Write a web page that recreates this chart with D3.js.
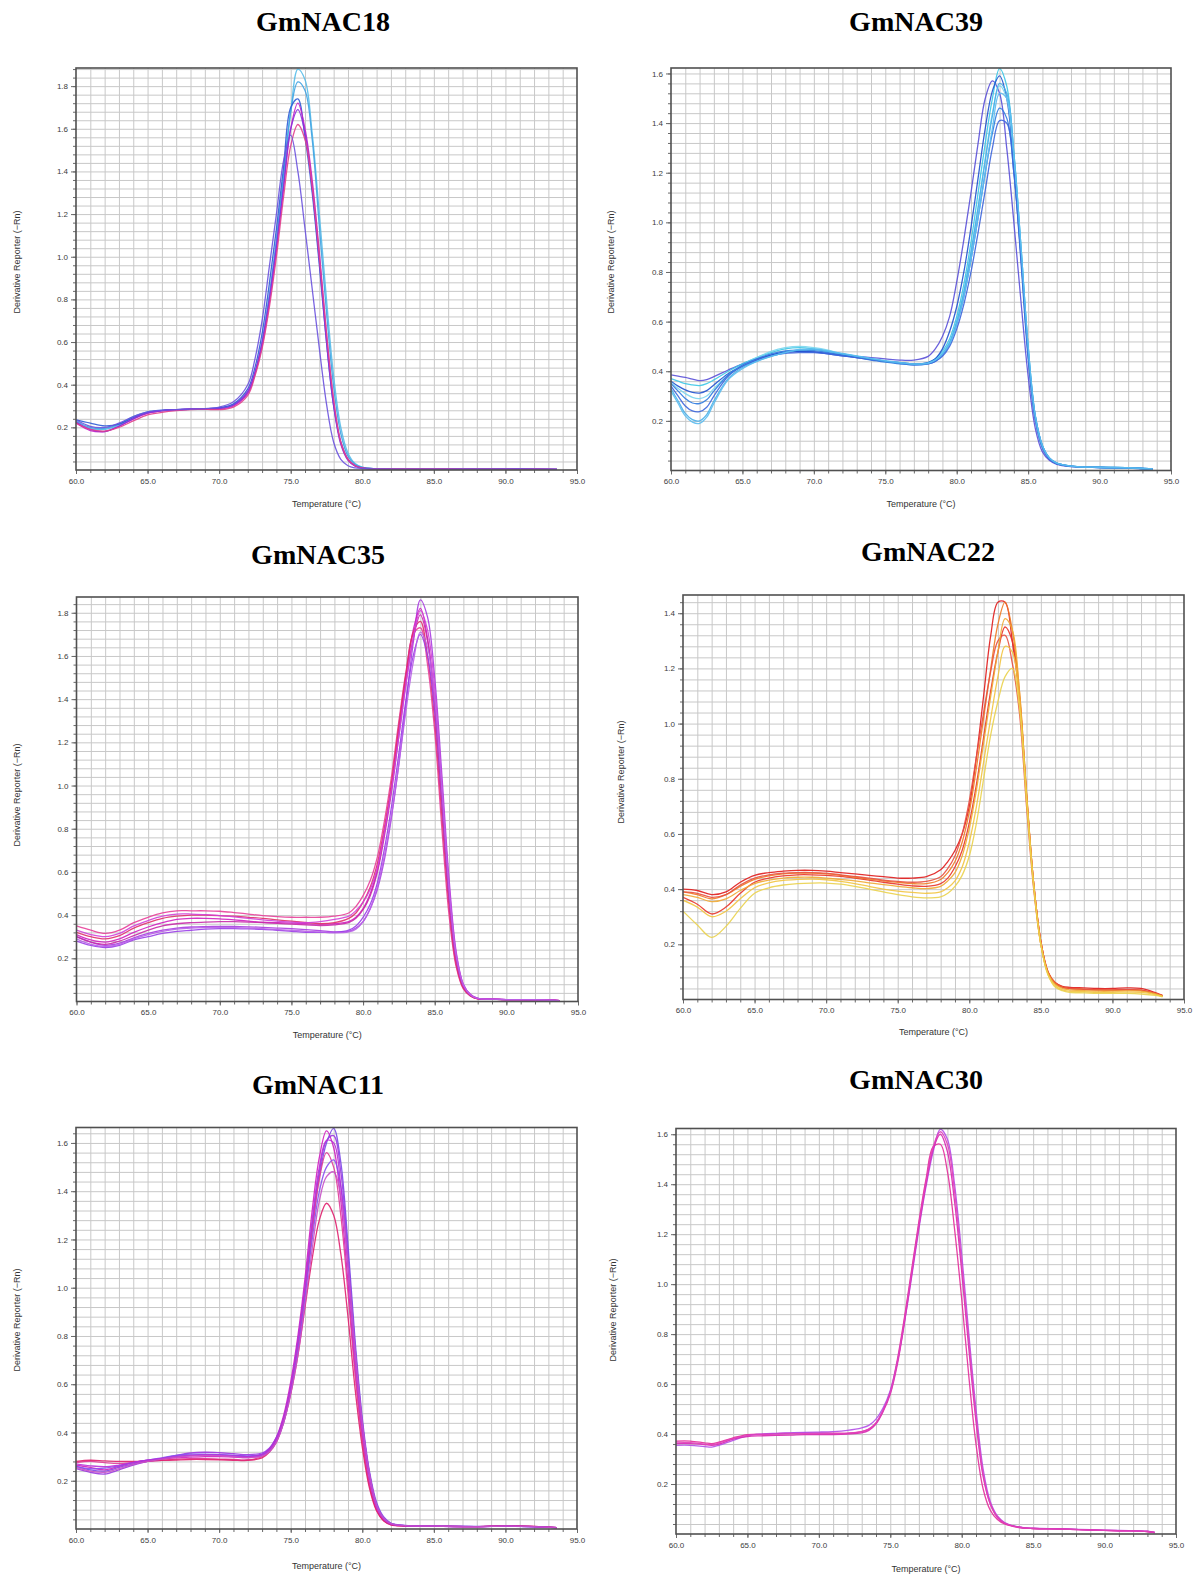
<!DOCTYPE html>
<html>
<head>
<meta charset="utf-8">
<script src="https://cdnjs.cloudflare.com/ajax/libs/d3/7.8.5/d3.min.js"></script>
<style>
body { margin: 0; background: #fff; }
.tick text { font-family: "Liberation Sans", Arial, sans-serif; font-size: 8px; fill: #3c3c3c; }
.axis .domain { stroke: none; }
.axis line { stroke: #6a6a6a; }
.axis-title { font-family: "Liberation Sans", Arial, sans-serif; font-size: 9px; fill: #333; }
.panel-title { font-family: "Liberation Serif", "Times New Roman", serif; font-weight: bold; font-size: 28px; fill: #000; }
.grid line { stroke: #c8c8c8; stroke-width: 1; }
.grid .domain { display: none; }
</style>
</head>
<body>
<div id="picture"></div>
<script>
// GmNAC18
var T18 = [60, 61, 62, 63, 64, 65, 66, 67, 68, 69, 70, 71, 72, 72.5, 73, 73.5, 74, 74.5, 75, 75.5, 76, 76.5, 77, 77.5, 78, 78.5, 79, 79.5, 80, 81, 83, 85, 87, 89, 91, 93.6];
var NAC18 = [
    [.225, .195, .19, .21, .245, .268, .278, .282, .285, .286, .29, .305, .365, .45, .59, .8, 1.06, 1.36, 1.68, 1.88, 1.83, 1.58, 1.2, .8, .44, .2, .08, .03, .013, .006, .004, .004, .005, .005, .005, .003],
    [.23, .2, .195, .215, .25, .272, .28, .283, .285, .287, .29, .305, .36, .45, .6, .82, 1.08, 1.38, 1.68, 1.82, 1.78, 1.55, 1.14, .74, .39, .17, .065, .026, .012, .006, .004, .004, .005, .005, .005, .003],
    [.235, .22, .207, .215, .245, .27, .28, .283, .285, .287, .292, .31, .38, .48, .64, .87, 1.13, 1.42, 1.7, 1.74, 1.56, 1.3, .96, .6, .3, .13, .05, .02, .01, .006, .004, .004, .005, .005, .005, .003],
    [.22, .185, .18, .205, .24, .265, .277, .282, .285, .285, .285, .3, .36, .45, .58, .78, 1.03, 1.32, 1.6, 1.72, 1.6, 1.36, 1.02, .64, .32, .13, .05, .02, .009, .005, .004, .004, .006, .006, .004, .003],
    [.225, .19, .18, .205, .24, .268, .278, .283, .285, .286, .288, .305, .37, .46, .6, .8, 1.05, 1.33, 1.6, 1.69, 1.58, 1.32, .98, .6, .3, .12, .045, .018, .009, .005, .004, .004, .005, .005, .004, .003],
    [.22, .19, .182, .2, .23, .258, .27, .278, .283, .285, .283, .295, .35, .44, .57, .76, 1.0, 1.28, 1.52, 1.62, 1.55, 1.33, 1.0, .64, .33, .13, .05, .02, .01, .006, .005, .005, .006, .006, .004, .003],
    [.235, .205, .2, .22, .25, .272, .28, .283, .285, .288, .295, .32, .4, .52, .7, .95, 1.2, 1.45, 1.57, 1.4, 1.13, .85, .57, .31, .13, .05, .02, .01, .007, .005, .004, .004, .005, .005, .005, .003]
];
var COL18 = ["#58bde9", "#3fa2e2", "#2f5cd6", "#c81fc8", "#8a2fdc", "#e2408c", "#6a52de"];

// GmNAC39
var T39 = [60, 60.5, 61, 61.5, 62, 62.5, 63, 64, 65, 66, 67, 68, 69, 70, 71, 72, 73, 74, 75, 76, 77, 78, 78.5, 79, 79.5, 80, 80.5, 81, 81.5, 82, 82.5, 83, 83.5, 84, 84.5, 85, 85.5, 86, 86.5, 87, 88, 90, 92, 93.7];
var NAC39 = [
    [.385, .38, .375, .368, .362, .366, .378, .405, .43, .45, .465, .475, .48, .478, .472, .466, .46, .455, .45, .445, .445, .46, .49, .54, .62, .76, .93, 1.12, 1.32, 1.5, 1.57, 1.52, 1.3, 1.0, .68, .38, .17, .075, .04, .025, .016, .012, .01, .005],
    [.37, .36, .35, .345, .342, .35, .365, .4, .43, .455, .475, .49, .495, .49, .48, .47, .46, .45, .44, .435, .43, .435, .45, .48, .53, .62, .75, .92, 1.12, 1.32, 1.5, 1.62, 1.55, 1.28, .9, .5, .22, .1, .05, .03, .018, .013, .011, .005],
    [.36, .34, .325, .315, .312, .322, .345, .39, .42, .445, .465, .478, .48, .478, .47, .462, .455, .448, .44, .435, .43, .435, .45, .49, .56, .66, .8, .98, 1.18, 1.38, 1.53, 1.59, 1.5, 1.22, .84, .45, .2, .09, .045, .028, .017, .012, .011, .005],
    [.355, .33, .31, .295, .29, .3, .33, .385, .425, .455, .48, .495, .5, .495, .485, .47, .46, .45, .44, .432, .428, .432, .445, .475, .52, .6, .72, .88, 1.06, 1.26, 1.44, 1.55, 1.5, 1.25, .88, .48, .21, .095, .048, .029, .017, .012, .011, .005],
    [.35, .32, .29, .272, .27, .285, .32, .385, .425, .45, .47, .482, .485, .483, .475, .465, .455, .445, .437, .43, .425, .43, .44, .465, .51, .59, .7, .85, 1.02, 1.2, 1.36, 1.46, 1.42, 1.2, .86, .47, .21, .095, .047, .028, .017, .012, .01, .005],
    [.34, .3, .26, .24, .237, .255, .3, .38, .42, .445, .462, .472, .475, .475, .47, .462, .455, .447, .44, .433, .427, .43, .44, .46, .5, .57, .67, .8, .96, 1.13, 1.3, 1.41, 1.4, 1.2, .87, .48, .22, .1, .05, .03, .018, .013, .011, .006],
    [.33, .28, .23, .205, .2, .225, .28, .37, .415, .44, .46, .475, .485, .487, .48, .47, .46, .45, .44, .433, .428, .432, .445, .47, .515, .6, .72, .88, 1.06, 1.25, 1.43, 1.56, 1.52, 1.28, .9, .5, .22, .1, .05, .03, .018, .013, .011, .006],
    [.32, .27, .22, .195, .19, .215, .27, .365, .41, .44, .46, .475, .488, .49, .482, .472, .462, .452, .443, .436, .43, .433, .445, .47, .51, .59, .7, .85, 1.02, 1.2, 1.38, 1.52, 1.5, 1.27, .9, .5, .22, .1, .05, .03, .018, .013, .011, .006]
];
var COL39 = ["#5a50d8", "#3cc6e6", "#1f52cf", "#7ad6ee", "#2c7ae0", "#3d66dc", "#48aee8", "#5bbcf0"];

// GmNAC35
var T35 = [60, 61, 62, 63, 64, 65, 66, 67, 68, 69, 70, 71, 72, 73, 74, 75, 76, 77, 78, 79, 79.5, 80, 80.5, 81, 81.5, 82, 82.5, 83, 83.5, 84, 84.5, 85, 85.5, 86, 86.5, 87, 87.5, 88, 89, 90, 92, 93.7];
var NAC35 = [
    [.35, .33, .315, .33, .365, .39, .41, .42, .42, .42, .418, .412, .405, .398, .393, .39, .39, .39, .395, .41, .44, .49, .56, .67, .84, 1.05, 1.3, 1.53, 1.7, 1.73, 1.56, 1.25, .8, .4, .16, .058, .024, .012, .01, .009, .008, .004],
    [.3, .275, .26, .27, .295, .315, .33, .34, .345, .347, .348, .348, .346, .343, .34, .337, .333, .328, .322, .325, .34, .37, .43, .52, .66, .86, 1.1, 1.38, 1.66, 1.86, 1.78, 1.5, 1.05, .57, .23, .08, .032, .014, .011, .009, .008, .004],
    [.31, .285, .275, .29, .32, .345, .365, .38, .385, .385, .383, .378, .372, .367, .365, .363, .36, .358, .36, .37, .39, .43, .5, .61, .79, 1.0, 1.26, 1.51, 1.72, 1.82, 1.68, 1.38, .93, .48, .19, .068, .028, .013, .011, .009, .008, .004],
    [.32, .3, .29, .305, .34, .365, .385, .395, .4, .4, .398, .395, .39, .385, .378, .372, .366, .36, .365, .385, .41, .46, .53, .64, .81, 1.02, 1.28, 1.52, 1.71, 1.76, 1.6, 1.3, .86, .44, .17, .062, .026, .012, .01, .009, .008, .004],
    [.28, .26, .25, .26, .285, .3, .315, .325, .33, .335, .337, .337, .336, .334, .33, .325, .32, .32, .32, .33, .35, .39, .45, .55, .71, .91, 1.15, 1.4, 1.6, 1.7, 1.6, 1.34, .92, .49, .2, .072, .03, .014, .011, .009, .008, .004],
    [.3, .275, .265, .28, .305, .33, .35, .36, .365, .368, .37, .37, .368, .365, .362, .358, .355, .352, .355, .365, .385, .425, .49, .6, .77, .98, 1.23, 1.48, 1.68, 1.79, 1.67, 1.38, .93, .48, .19, .068, .028, .013, .011, .009, .008, .004],
    [.33, .31, .3, .315, .35, .375, .395, .405, .405, .402, .398, .392, .385, .378, .372, .368, .365, .37, .38, .395, .42, .46, .52, .62, .79, .99, 1.23, 1.47, 1.68, 1.81, 1.72, 1.45, 1.0, .54, .22, .078, .032, .014, .011, .009, .008, .004],
    [.29, .265, .255, .265, .29, .31, .325, .335, .34, .342, .343, .342, .34, .337, .333, .33, .325, .322, .318, .322, .335, .37, .43, .53, .68, .87, 1.1, 1.35, 1.57, 1.71, 1.64, 1.4, .98, .52, .21, .075, .03, .014, .011, .009, .008, .004]
];
var COL35 = ["#e8409a", "#a83ee0", "#d020c0", "#e0306a", "#9a3ee8", "#c82aa8", "#d040d8", "#b860e8"];

// GmNAC22
var T22 = [60, 61, 62, 63, 64, 65, 66, 67, 68, 69, 70, 71, 72, 73, 74, 75, 76, 77, 78, 78.5, 79, 79.5, 80, 80.5, 81, 81.5, 82, 82.5, 83, 83.5, 84, 84.5, 85, 85.5, 86, 86.5, 87, 88, 89, 90, 91, 92, 93, 93.5];
var NAC22 = [
    [.4, .395, .38, .39, .425, .45, .46, .465, .468, .468, .465, .46, .455, .45, .445, .44, .44, .445, .47, .5, .54, .6, .7, .88, 1.1, 1.32, 1.44, 1.44, 1.3, 1.1, .74, .42, .21, .1, .062, .048, .044, .042, .04, .04, .042, .04, .025, .015],
    [.37, .345, .31, .335, .385, .425, .44, .448, .452, .452, .45, .446, .44, .433, .425, .418, .412, .41, .42, .44, .48, .54, .64, .78, .95, 1.12, 1.26, 1.35, 1.3, 1.1, .74, .42, .21, .1, .06, .046, .04, .037, .035, .034, .036, .034, .022, .013],
    [.39, .38, .365, .38, .41, .435, .448, .455, .458, .458, .455, .45, .443, .436, .43, .425, .42, .42, .435, .46, .5, .57, .68, .84, 1.02, 1.2, 1.36, 1.44, 1.34, 1.12, .75, .42, .21, .1, .06, .045, .04, .037, .035, .034, .035, .033, .022, .013],
    [.39, .385, .37, .38, .415, .44, .452, .458, .46, .46, .458, .452, .446, .44, .433, .428, .425, .428, .445, .475, .52, .6, .72, .88, 1.04, 1.19, 1.3, 1.32, 1.22, 1.04, .7, .4, .2, .095, .058, .044, .04, .037, .035, .035, .036, .034, .022, .013],
    [.38, .37, .355, .365, .395, .42, .433, .44, .443, .443, .44, .435, .43, .423, .416, .41, .405, .402, .41, .43, .46, .52, .62, .76, .93, 1.1, 1.26, 1.38, 1.34, 1.12, .75, .42, .2, .095, .055, .04, .035, .032, .03, .03, .031, .03, .02, .012],
    [.36, .335, .3, .32, .365, .405, .423, .432, .435, .436, .434, .428, .42, .41, .4, .393, .388, .385, .39, .405, .43, .48, .57, .7, .86, 1.02, 1.17, 1.28, 1.26, 1.08, .73, .41, .2, .09, .05, .035, .03, .028, .026, .026, .027, .026, .018, .011],
    [.32, .27, .225, .265, .33, .385, .405, .415, .42, .422, .422, .418, .41, .4, .39, .38, .372, .368, .372, .385, .41, .45, .52, .64, .8, .96, 1.08, 1.17, 1.2, 1.06, .72, .41, .2, .09, .045, .032, .026, .024, .022, .022, .022, .02, .015, .01]
];
var COL22 = ["#e01c1c", "#e8342a", "#f07a22", "#e85040", "#f0a832", "#f2c440", "#ead24c"];

// GmNAC11
var T11 = [60, 61, 62, 63, 64, 65, 66, 67, 68, 69, 70, 71, 72, 73, 73.5, 74, 74.5, 75, 75.5, 76, 76.5, 77, 77.5, 78, 78.5, 79, 79.5, 80, 80.5, 81, 81.5, 82, 83, 85, 88, 90, 92, 93.6];
var NAC11 = [
    [.26, .245, .24, .255, .27, .28, .29, .3, .305, .308, .308, .305, .302, .31, .33, .37, .45, .58, .76, .98, 1.24, 1.46, 1.6, 1.66, 1.52, 1.18, .78, .46, .24, .11, .05, .025, .015, .013, .011, .011, .009, .006],
    [.265, .255, .245, .26, .275, .285, .29, .295, .298, .3, .3, .298, .296, .305, .33, .38, .47, .61, .8, 1.04, 1.32, 1.54, 1.65, 1.58, 1.36, 1.02, .66, .38, .19, .08, .035, .018, .012, .011, .01, .013, .01, .006],
    [.25, .235, .228, .245, .265, .28, .292, .305, .315, .318, .316, .312, .308, .315, .335, .38, .46, .59, .78, 1.0, 1.26, 1.48, 1.61, 1.63, 1.48, 1.14, .75, .44, .23, .1, .045, .022, .014, .012, .01, .012, .01, .006],
    [.275, .28, .275, .272, .275, .28, .285, .29, .292, .292, .29, .288, .287, .3, .325, .37, .45, .58, .76, .98, 1.23, 1.45, 1.56, 1.5, 1.3, .98, .64, .37, .18, .08, .035, .018, .012, .011, .01, .014, .011, .006],
    [.28, .285, .282, .28, .28, .282, .284, .286, .288, .288, .287, .285, .284, .295, .318, .36, .44, .56, .72, .92, 1.12, 1.28, 1.35, 1.3, 1.14, .88, .58, .34, .17, .075, .033, .017, .012, .011, .01, .014, .011, .006],
    [.26, .25, .252, .262, .275, .285, .295, .305, .31, .31, .308, .305, .302, .306, .322, .365, .44, .57, .74, .96, 1.2, 1.4, 1.5, 1.53, 1.42, 1.12, .75, .44, .23, .1, .045, .022, .014, .012, .01, .012, .01, .006],
    [.27, .262, .258, .265, .276, .285, .293, .3, .305, .307, .306, .303, .3, .308, .328, .372, .455, .59, .78, 1.01, 1.28, 1.5, 1.61, 1.6, 1.42, 1.08, .7, .41, .21, .09, .04, .02, .013, .012, .01, .012, .01, .006],
    [.255, .24, .235, .25, .268, .28, .29, .298, .303, .305, .304, .3, .296, .302, .32, .36, .44, .56, .72, .93, 1.16, 1.36, 1.46, 1.48, 1.38, 1.1, .74, .44, .23, .1, .045, .022, .014, .012, .01, .012, .01, .006]
];
var COL11 = ["#7a4ae8", "#d21fc0", "#9a3ae0", "#e03c98", "#e0206e", "#8850f0", "#b830d8", "#c850c8"];

// GmNAC30
var T30 = [60, 61, 62, 62.5, 63, 64, 65, 66, 67, 68, 69, 70, 71, 72, 73, 73.5, 74, 74.5, 75, 75.5, 76, 76.5, 77, 77.5, 78, 78.5, 79, 79.5, 80, 80.5, 81, 81.5, 82, 82.5, 83, 84, 85, 87, 89, 91, 93, 93.5];
var NAC30 = [
    [.372, .372, .365, .362, .368, .385, .398, .4, .402, .404, .405, .405, .404, .403, .41, .42, .445, .495, .57, .7, .87, 1.06, 1.25, 1.42, 1.55, 1.56, 1.45, 1.22, .94, .63, .36, .18, .095, .058, .04, .026, .022, .02, .016, .013, .01, .006],
    [.355, .355, .35, .348, .355, .375, .393, .4, .403, .405, .407, .408, .41, .415, .425, .435, .46, .505, .575, .69, .85, 1.03, 1.22, 1.39, 1.53, 1.62, 1.58, 1.4, 1.12, .8, .5, .26, .13, .072, .046, .028, .023, .021, .017, .014, .011, .006],
    [.362, .362, .358, .355, .36, .38, .39, .393, .395, .396, .398, .398, .398, .4, .405, .415, .44, .49, .56, .68, .85, 1.04, 1.23, 1.4, 1.54, 1.6, 1.53, 1.33, 1.05, .74, .45, .23, .12, .066, .043, .027, .022, .02, .016, .013, .01, .006],
    [.368, .366, .36, .358, .364, .383, .395, .398, .4, .401, .402, .402, .402, .404, .41, .42, .445, .495, .565, .69, .86, 1.05, 1.24, 1.41, 1.55, 1.61, 1.56, 1.37, 1.08, .77, .47, .24, .12, .068, .044, .027, .022, .02, .016, .013, .01, .006]
];
var COL30 = ["#e32c9a", "#b24ee8", "#d727b0", "#e040b8"];

var X_MAJOR = [60, 65, 70, 75, 80, 85, 90, 95];

// page layout: plot box [left, top, right, bottom], label anchors
var panels = [
    { title: "GmNAC18", temps: T18, curves: NAC18, colors: COL18, yMax: 1.885, box: [76, 68, 577, 470], tx: 323, ty: 31, lx: 17, ly: 262, xy: 507 },
    { title: "GmNAC39", temps: T39, curves: NAC39, colors: COL39, yMax: 1.622, box: [671, 68, 1171, 470.5], tx: 916, ty: 31, lx: 611, ly: 262, xy: 507 },
    { title: "GmNAC35", temps: T35, curves: NAC35, colors: COL35, yMax: 1.873, box: [76.5, 597, 578, 1001.5], tx: 318, ty: 564, lx: 17, ly: 795, xy: 1038 },
    { title: "GmNAC22", temps: T22, curves: NAC22, colors: COL22, yMax: 1.466, box: [683, 595, 1184, 999.5], tx: 928, ty: 561, lx: 621, ly: 772, xy: 1035 },
    { title: "GmNAC11", temps: T11, curves: NAC11, colors: COL11, yMax: 1.664, box: [76, 1127.5, 577, 1529], tx: 318, ty: 1094, lx: 17, ly: 1320, xy: 1569 },
    { title: "GmNAC30", temps: T30, curves: NAC30, colors: COL30, yMax: 1.623, box: [676, 1128.5, 1176, 1534], tx: 916, ty: 1089, lx: 613, ly: 1310, xy: 1572 }
];

var svg = d3.select("#picture")
    .append("svg")
    .attr("width", 1202)
    .attr("height", 1578);

panels.forEach(function (p, i) {
    var b = p.box;
    var x = d3.scaleLinear().domain([60, 95]).range([b[0], b[2]]);
    var y = d3.scaleLinear().domain([0, p.yMax]).range([b[3], b[1]]);
    var w = b[2] - b[0], h = b[3] - b[1];
    var g = svg.append("g");

    var minorY = d3.range(1, Math.floor(p.yMax / 0.04 + 1e-6) + 1).map(function (k) { return k * 0.04; });
    var majorY = d3.range(1, Math.floor(p.yMax / 0.2 + 1e-6) + 1).map(function (k) { return k * 0.2; });
    var minorX = d3.range(61, 95);

    g.append("clipPath").attr("id", "clip" + i)
        .append("rect").attr("x", b[0]).attr("y", b[1]).attr("width", w).attr("height", h);

    // grid
    g.append("g").attr("class", "grid")
        .attr("transform", "translate(0," + b[3] + ")")
        .call(d3.axisBottom(x).tickValues(minorX).tickSize(-h).tickFormat(""));
    g.append("g").attr("class", "grid")
        .attr("transform", "translate(" + b[0] + ",0)")
        .call(d3.axisLeft(y).tickValues(minorY).tickSize(-w).tickFormat(""));

    // axes
    g.append("g").attr("class", "axis")
        .attr("transform", "translate(" + b[0] + ",0)")
        .call(d3.axisLeft(y).tickValues(minorY).tickSize(3).tickFormat(""));
    g.append("g").attr("class", "axis")
        .attr("transform", "translate(" + b[0] + ",0)")
        .call(d3.axisLeft(y).tickValues(majorY).tickSize(5).tickPadding(3).tickFormat(d3.format(".1f")));
    g.append("g").attr("class", "axis")
        .attr("transform", "translate(0," + b[3] + ")")
        .call(d3.axisBottom(x).tickValues(d3.range(60, 96)).tickSize(3).tickFormat(""));
    g.append("g").attr("class", "axis")
        .attr("transform", "translate(0," + b[3] + ")")
        .call(d3.axisBottom(x).tickValues(X_MAJOR).tickSize(4).tickPadding(4).tickFormat(d3.format(".1f")));

    // melt curves
    var line = d3.line()
        .curve(d3.curveCatmullRom.alpha(0.5))
        .x(function (d) { return x(d[0]); })
        .y(function (d) { return y(d[1]); });

    g.append("g").attr("clip-path", "url(#clip" + i + ")")
        .selectAll("path")
        .data(p.curves)
        .enter()
        .append("path")
        .attr("d", function (c) { return line(d3.zip(p.temps, c)); })
        .attr("fill", "none")
        .attr("stroke", function (c, j) { return p.colors[j]; })
        .attr("stroke-width", 1.3)
        .attr("stroke-opacity", 0.9);

    g.append("rect")
        .attr("x", b[0]).attr("y", b[1]).attr("width", w).attr("height", h)
        .attr("fill", "none").attr("stroke", "#505050").attr("stroke-width", 1.6);

    g.append("text").attr("class", "panel-title")
        .attr("x", p.tx).attr("y", p.ty).attr("text-anchor", "middle")
        .text(p.title);

    g.append("text").attr("class", "axis-title")
        .attr("x", (b[0] + b[2]) / 2).attr("y", p.xy).attr("text-anchor", "middle")
        .text("Temperature (°C)");

    g.append("text").attr("class", "axis-title")
        .attr("transform", "translate(" + p.lx + "," + p.ly + ") rotate(-90)")
        .attr("text-anchor", "middle").attr("dy", "0.35em")
        .text("Derivative Reporter (−Rn)");
});
</script>
</body>
</html>
